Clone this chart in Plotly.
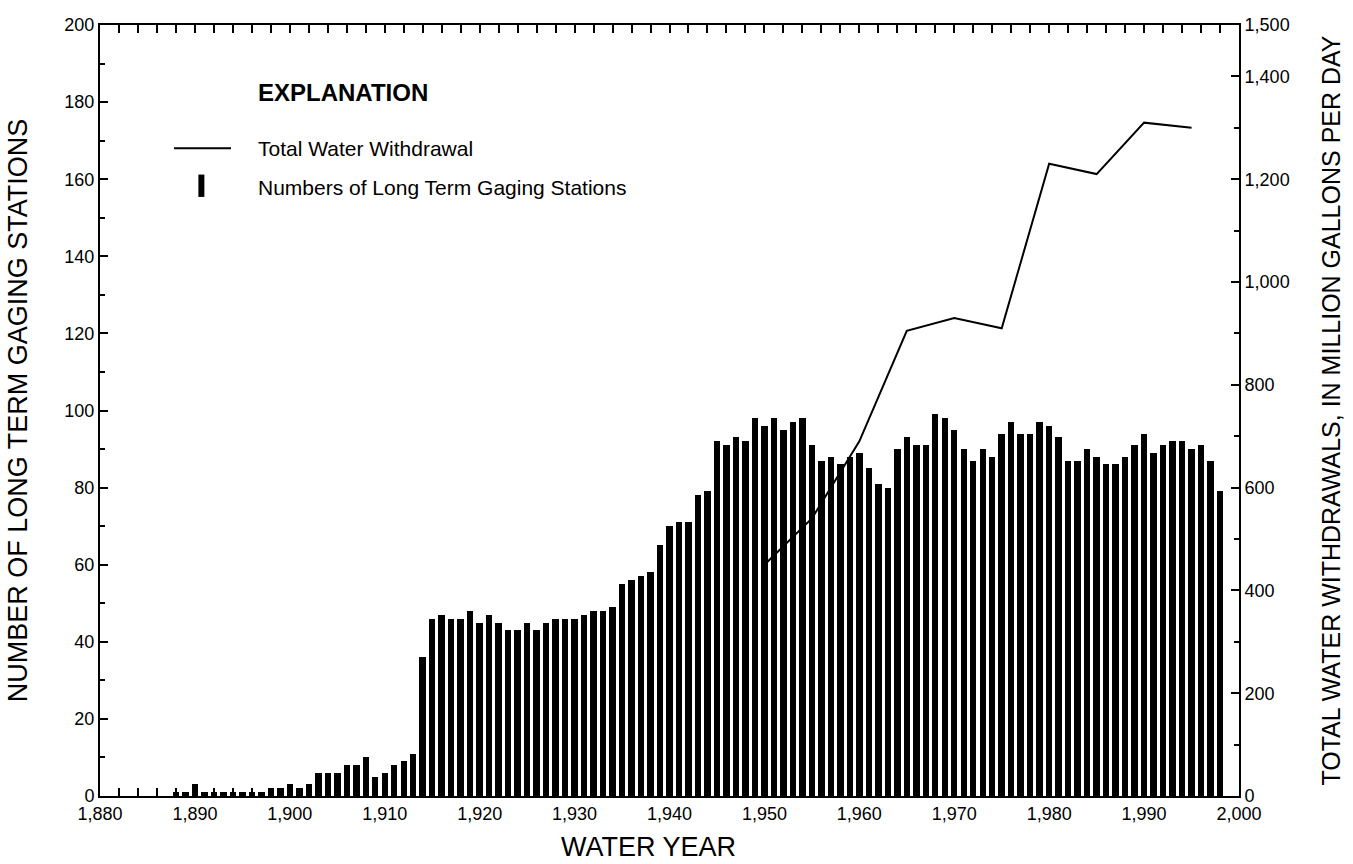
import plotly.graph_objects as go

# Number of long-term gaging stations per water year
station_years = list(range(1888, 1999))
station_counts = [
    1, 1, 3, 1, 1, 1, 1, 1, 1, 1,            # 1888-1897
    2, 2, 3, 2, 3, 6, 6, 6, 8, 8,            # 1898-1907
    10, 5, 6, 8, 9, 11, 36, 46, 47, 46,      # 1908-1917
    46, 48, 45, 47, 45, 43, 43, 45, 43, 45,  # 1918-1927
    46, 46, 46, 47, 48, 48, 49, 55, 56, 57,  # 1928-1937
    58, 65, 70, 71, 71, 78, 79, 92, 91, 93,  # 1938-1947
    92, 98, 96, 98, 95, 97, 98, 91, 87, 88,  # 1948-1957
    86, 88, 89, 85, 81, 80, 90, 93, 91, 91,  # 1958-1967
    99, 98, 95, 90, 87, 90, 88, 94, 97, 94,  # 1968-1977
    94, 97, 96, 93, 87, 87, 90, 88, 86, 86,  # 1978-1987
    88, 91, 94, 89, 91, 92, 92, 90, 91, 87,  # 1988-1997
    79,                                      # 1998
]

# Total water withdrawal, million gallons per day
withdrawal_years = [1950, 1955, 1960, 1965, 1970, 1975, 1980, 1985, 1990, 1995]
withdrawal_mgd = [450, 540, 690, 905, 930, 910, 1230, 1210, 1310, 1300]

# Axis tick labels
left_ticks = list(range(0, 201, 20))
right_ticks = [0, 200, 400, 600, 800, 1000, 1200, 1400, 1500]
right_ticktext = ["0", "200", "400", "600", "800", "1,000", "1,200", "1,400", "1,500"]

FONT = "Liberation Sans, Arial, Helvetica, sans-serif"
TICK_SIZE = 18

fig = go.Figure()
fig.add_trace(go.Bar(
    x=station_years, y=station_counts, width=0.68,
    marker=dict(color="black", line=dict(width=0)),
    yaxis="y", showlegend=False,
))
fig.add_trace(go.Scatter(
    x=withdrawal_years, y=withdrawal_mgd, mode="lines",
    line=dict(color="black", width=2),
    yaxis="y2", showlegend=False,
))

axis_common = dict(
    showline=True, linecolor="black", linewidth=2,
    ticks="inside", tickcolor="black", tickwidth=2,
    showgrid=False, zeroline=False,
    tickfont=dict(family=FONT, size=TICK_SIZE, color="black"),
)

fig.update_layout(
    width=1353, height=864,
    margin=dict(l=100, r=101, t=25, b=68),
    paper_bgcolor="white", plot_bgcolor="white",
    bargap=0,
    xaxis=dict(
        range=[1880, 2000], tickvals=list(range(1880, 2001, 10)),
        tickformat=",d", ticklen=8, mirror="allticks",
        minor=dict(dtick=2, ticks="inside", ticklen=4, tickcolor="black", tickwidth=2),
        **axis_common,
    ),
    yaxis=dict(
        range=[0, 200], tickvals=left_ticks, ticklen=8,
        minor=dict(dtick=10, ticks="inside", ticklen=5, tickcolor="black", tickwidth=2),
        title=dict(text="NUMBER OF LONG TERM GAGING STATIONS",
                   font=dict(family=FONT, size=27, color="black"), standoff=29),
        **axis_common,
    ),
    yaxis2=dict(
        range=[0, 1500], overlaying="y", side="right",
        tickvals=right_ticks, ticktext=right_ticktext, ticklen=8,
        minor=dict(dtick=100, ticks="inside", ticklen=5, tickcolor="black", tickwidth=2),
        title=dict(text="TOTAL WATER WITHDRAWALS, IN MILLION GALLONS PER DAY",
                   font=dict(family=FONT, size=25, color="black"), standoff=34),
        **axis_common,
    ),
)

# x-axis title, set slightly left of the axis centre
fig.add_annotation(x=0.482, y=-0.066, xref="paper", yref="paper", xanchor="center", yanchor="middle",
                   text="WATER YEAR", showarrow=False,
                   font=dict(family=FONT, size=27, color="black"))

# Explanation block
fig.add_annotation(x=0.137, y=0.912, xref="paper", yref="paper", xanchor="left", yanchor="middle",
                   text="<b>EXPLANATION</b>", showarrow=False,
                   font=dict(family=FONT, size=24, color="black"))
fig.add_shape(type="line", xref="paper", yref="paper", x0=0.065, x1=0.115, y0=0.840, y1=0.840,
              line=dict(color="black", width=2))
fig.add_annotation(x=0.137, y=0.840, xref="paper", yref="paper", xanchor="left", yanchor="middle",
                   text="Total Water Withdrawal", showarrow=False,
                   font=dict(family=FONT, size=21, color="black"))
fig.add_shape(type="line", xref="paper", yref="paper", x0=0.089, x1=0.089, y0=0.777, y1=0.806,
              line=dict(color="black", width=6))
fig.add_annotation(x=0.137, y=0.789, xref="paper", yref="paper", xanchor="left", yanchor="middle",
                   text="Numbers of Long Term Gaging Stations", showarrow=False,
                   font=dict(family=FONT, size=21, color="black"))

fig.write_html("out.html")
